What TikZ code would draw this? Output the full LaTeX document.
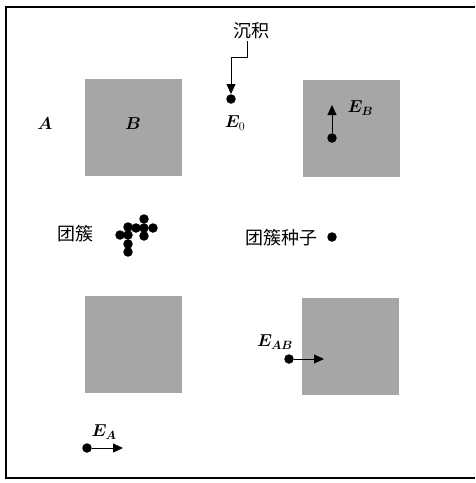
\documentclass[tikz,border=0pt]{standalone}
\usepackage{fontspec}
\usepackage{bm}
\newfontfamily\cjk{Noto Sans CJK SC}
\usetikzlibrary{arrows.meta,positioning}
\tikzset{
  grain/.style={
    rectangle, draw=none, fill=black!35,
    minimum width=97pt, minimum height=97pt, inner sep=0pt
  },
  atom/.style={
    circle, fill=black, minimum size=9.5pt, inner sep=0pt
  },
  hop/.style={
    -{Triangle[length=10pt,width=9pt]}, line width=0.8pt
  },
  elabel/.style={
    font=\fontsize{18}{21}\selectfont
  },
  cjklabel/.style={
    font=\fontsize{18}{22}\selectfont\cjk
  },
}

\begin{document}
\begin{tikzpicture}[x=1pt,y=-1pt]
  \useasboundingbox (0,0) rectangle (475,483);
  % frame (open on the right)
  \draw[line width=2pt] (475,7) -- (6,7) -- (6,478) -- (475,478);

  % substrate squares
  \node[grain] (sqB) at (133.5,127.5) {};
  \node[grain] (sqTR) at (351.5,128) {};
  \node[grain] (sqBL) at (133.5,344) {};
  \node[grain] (sqBR) at (350,346) {};
  \node[elabel] (lblA) at (45,124) {$\bm{A}$};
  \node[elabel] (lblB) at (133,124) {$\bm{B}$};

  % deposition
  \node[cjklabel] (dep) at (251,31) {沉积};
  \coordinate (depFoot) at (247,41);
  \coordinate (bend) at (231,57);
  \node[atom] (e0atom) at (231,99) {};
  \draw[hop] (depFoot) |- (bend) -- (e0atom.north);
  \node[elabel] (e0) at (235,123) {$\bm{E}_0$};

  % hop inside B
  \node[atom] (bAtom) at (332,138) {};
  \coordinate (bTip) at (332,105);
  \draw[hop] (bAtom) -- (bTip);
  \node[elabel, anchor=west] (eB) at (344,108) {$\bm{E}_{\bm{B}}$};

  % cluster
  \node[cjklabel] (clLbl) at (75,234) {团簇};
  \foreach \x/\y [count=\i] in {144/219, 128/227, 136/228, 144/228, 153/228,
                                120/235, 128/235, 144/236, 128/244, 128/252}
    \node[atom] (cl\i) at (\x,\y) {};

  % cluster seed
  \node[cjklabel] (seedLbl) at (281,238) {团簇种子};
  \node[atom] (seed) at (332,237) {};

  % hop from A to B
  \node[atom] (abAtom) at (289,359) {};
  \coordinate (abTip) at (324,359);
  \draw[hop] (abAtom) -- (abTip);
  \node[elabel] (eAB) at (275,342) {$\bm{E}_{\bm{AB}}$};

  % hop on A
  \node[atom] (aAtom) at (87,448) {};
  \coordinate (aTip) at (123,448);
  \draw[hop] (aAtom) -- (aTip);
  \node[elabel] (eA) at (104,432) {$\bm{E}_{\bm{A}}$};
\end{tikzpicture}
\end{document}
